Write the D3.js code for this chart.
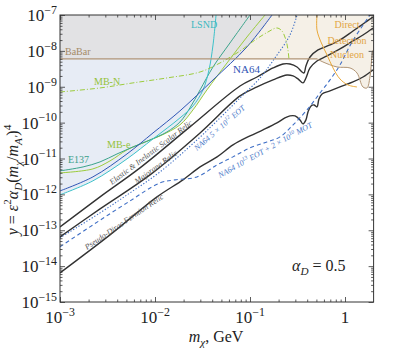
<!DOCTYPE html>
<html>
<head>
<meta charset="utf-8">
<script src="https://cdn.jsdelivr.net/npm/d3@7"></script>
<style>
  body { margin: 0; background: #fff; }
  svg text { font-family: "Liberation Serif", "Times New Roman", "DejaVu Serif", serif; }
</style>
</head>
<body>
<div id="chart"></div>
<script>
// values, each point is [m_chi (GeV), y]

// thermal relic targets
const scalarRelic = [[1e-3,1.24e-13],[2.64e-3,8.5e-13],[6.95e-3,5.47e-12],[0.0233,7.6e-11],[0.0785,1.05e-9],[0.1186,1.87e-9],[0.1746,3.34e-9],[0.2225,4.32e-9],[0.2636,4.32e-9],[0.3126,3.56e-9],[0.3527,2.58e-9],[0.370,2.42e-9],[0.388,3.79e-9],[0.4285,6.76e-9],[0.52,1.06e-8],[0.695,1.46e-8],[0.885,2.01e-8],[1.213,3.58e-8],[1.546,5.61e-8],[1.97,8.8e-8]]
const majoranaRelic = [[1e-3,6.55e-14],[2.64e-3,3.94e-13],[8.86e-3,3.49e-12],[0.0298,5.16e-11],[0.0785,5.55e-10],[0.1186,9.86e-10],[0.1746,1.55e-9],[0.245,2.13e-9],[0.284,2.0e-9],[0.32,1.65e-9],[0.361,1.28e-9],[0.388,1.76e-9],[0.4285,3.34e-9],[0.507,5.24e-9],[0.647,7.21e-9],[0.885,1.13e-8],[1.213,1.89e-8],[1.546,2.77e-8],[1.97,4.35e-8]]
const pseudoDiracRelic = [[1e-3,6.5e-15],[3.36e-3,7.45e-14],[0.0105,8.5e-13],[0.0197,2.54e-12],[0.0298,5.83e-12],[0.045,1.11e-11],[0.0662,2.39e-11],[0.1,4.26e-11],[0.137,6.27e-11],[0.192,9.8e-11],[0.233,1.35e-10],[0.2636,1.54e-10],[0.298,1.54e-10],[0.336,1.19e-10],[0.361,9.2e-11],[0.388,1.19e-10],[0.408,1.99e-10],[0.439,2.92e-10],[0.472,3.11e-10],[0.507,2.74e-10],[0.532,4.57e-10],[0.573,6.3e-10],[0.695,7.64e-10],[0.885,9.86e-10],[1.213,1.36e-9],[1.546,1.87e-9],[1.97,2.94e-9]]

// NA64 projections
const na64Eot5e12 = [[1e-3,6.14e-14],[2.64e-3,3.05e-13],[5.46e-3,1.1e-12],[0.0113,4.24e-12],[0.0277,3.3e-11],[0.0483,1.35e-10],[0.0785,4.88e-10],[0.1274,1.76e-9],[0.183,6.34e-9],[0.2636,2.77e-8],[0.3126,1e-7]]
const na64Eot1e13 = [[1e-3,3.45e-14],[2.22e-3,1.41e-13],[5.07e-3,5.79e-13],[0.0113,2.09e-12],[0.01626,2.54e-12],[0.0277,3.07e-12],[0.045,6.63e-12],[0.0662,1.11e-11],[0.1,1.97e-11],[0.151,2.9e-11],[0.207,4.0e-11],[0.284,8.63e-11],[0.398,2.26e-10],[0.546,6.71e-10],[0.695,1.55e-9],[0.885,4.05e-9],[1.186,1.77e-8],[1.83,1e-7]]

// existing limits
const na64 = [[1e-3,1.25e-12],[2.22e-3,3.07e-12],[5.07e-3,1.34e-11],[9.53e-3,5.16e-11],[0.0183,2.12e-10],[0.0408,1.55e-9],[0.0929,1.29e-8],[0.1706,1e-7]]
const lsnd = [[1e-3,9.7e-13],[2.22e-3,2.38e-12],[5.07e-3,9.75e-12],[9.53e-3,3.52e-11],[0.0183,1.35e-10],[0.0251,2.92e-10],[0.032,8.15e-10],[0.037,2.94e-9],[0.0408,1.46e-8],[0.0439,1e-7]]
const e137 = [[1e-3,4.52e-12],[1.75e-3,5.83e-12],[2.64e-3,8.04e-12],[3.98e-3,1.34e-11],[5.86e-3,2.1e-11],[8.86e-3,3.3e-11],[0.01337,5.5e-11],[0.0183,1.04e-10],[0.0233,2.56e-10],[0.0298,8.15e-10],[0.0408,3.56e-9],[0.0615,1.66e-8],[0.1,1e-7]]
const mbE = [[1e-3,3.97e-12],[2.22e-3,5.13e-12],[3.36e-3,8.57e-12],[5.07e-3,1.74e-11],[7.48e-3,2.72e-11],[0.0113,4.26e-11],[0.0183,8.63e-11],[0.0251,2.26e-10],[0.0352,8.15e-10],[0.0573,4.6e-9],[0.0929,2.44e-8],[0.144,1e-7]]
const mbN = [[1e-3,7.16e-10],[2.64e-3,9.27e-10],[5.86e-3,1.28e-9],[0.01337,1.76e-9],[0.0298,2.58e-9],[0.0483,4.6e-9],[0.0785,9.93e-9],[0.113,2.01e-8],[0.1545,3.36e-8],[0.192,4.35e-8],[0.217,3.58e-8],[0.239,2.01e-8],[0.251,1.06e-8],[0.2575,5.58e-9]]
const babarY = 6e-9
const babarEnd = 0.507
const ddBoundary = [[0.507,6e-9],[0.586,4.91e-9],[0.824,3.56e-9],[1.13,3.34e-9],[1.337,2.42e-9],[1.546,9.86e-10],[1.705,9.27e-10],[1.83,1.87e-9],[1.92,6.76e-9],[1.97,1.06e-8]]
const ddNucleon = [[0.507,1e-7],[0.507,3.82e-8],[0.558,1.77e-8],[0.647,7.69e-9],[0.748,3.34e-9],[0.885,1.65e-9],[1.076,1.12e-9],[1.337,9.86e-10]]

const xTicks = [1e-3, 1e-2, 1e-1, 1]
const xTickLabels = [["10","−3"],["10","−2"],["10","−1"],["1",""]]
const yTicks = [1e-15,1e-14,1e-13,1e-12,1e-11,1e-10,1e-9,1e-8,1e-7]
const yTickLabels = [["10","−15"],["10","−14"],["10","−13"],["10","−12"],["10","−11"],["10","−10"],["10","−9"],["10","−8"],["10","−7"]]

const width = 393, height = 350
const margin = { top: 15, right: 19.4, bottom: 48, left: 60 }
const serif = "'Liberation Serif', 'Times New Roman', 'DejaVu Serif', serif"

let svg = d3.select("#chart").append("svg")
    .attr("width", width).attr("height", height)
    .attr("font-family", serif)

let x = d3.scaleLog().domain([1e-3, 2]).range([margin.left, width - margin.right])
let y = d3.scaleLog().domain([1e-15, 1e-7]).range([height - margin.bottom, margin.top])
const x0 = x.range()[0], x1 = x.range()[1], yTop = y.range()[1], yBot = y.range()[0]

// clip paths: whole plot, above and below the BaBar line
const defs = svg.append("defs")
defs.append("clipPath").attr("id", "plot").append("rect")
    .attr("x", x0).attr("y", yTop).attr("width", x1 - x0).attr("height", yBot - yTop)
defs.append("clipPath").attr("id", "above").append("rect")
    .attr("x", x0).attr("y", yTop).attr("width", x1 - x0).attr("height", y(babarY) - yTop)
defs.append("clipPath").attr("id", "below").append("rect")
    .attr("x", x0).attr("y", y(babarY)).attr("width", x1 - x0).attr("height", yBot - y(babarY))

let line = d3.line().x(d => x(d[0])).y(d => y(d[1])).curve(d3.curveCatmullRom.alpha(0.5))
let plot = svg.append("g").attr("clip-path", "url(#plot)")

// direct detection region (beige), everything above the tan edge
plot.append("path")
    .attr("d", `M${x0},${yTop}L${x0},${y(babarY)}` + line(ddBoundary).replace(/^M/, "L") + `L${x1},${y(1.06e-8)}L${x1},${yTop}Z`)
    .attr("fill", "#f5f0e7")

// excluded regions: union of the areas above each limit
const limits = [na64, lsnd, e137, mbE]
const above = c => line(c) + `L${x0},${yTop}Z`
plot.append("g").attr("clip-path", "url(#above)")
    .selectAll("path").data(limits).join("path")
    .attr("d", above).attr("fill", "#e2e2e4")
plot.append("g").attr("clip-path", "url(#below)")
    .selectAll("path").data(limits).join("path")
    .attr("d", above).attr("fill", "#e7ecf5")

// relic lines
plot.selectAll(".relic").data([scalarRelic, majoranaRelic, pseudoDiracRelic]).join("path")
    .attr("class", "relic")
    .attr("d", line).attr("fill", "none").attr("stroke", "#333").attr("stroke-width", 1.4)

// NA64 projections
plot.append("path").attr("d", line(na64Eot5e12)).attr("fill", "none")
    .attr("stroke", "#3f6fc6").attr("stroke-width", 1.1).attr("stroke-dasharray", "1.3,1.8")
plot.append("path").attr("d", line(na64Eot1e13)).attr("fill", "none")
    .attr("stroke", "#3f6fc6").attr("stroke-width", 1.1).attr("stroke-dasharray", "4,3")

// limits
const limitStyles = [
    [mbE, "#9ccb3c"], [e137, "#3aa38a"], [lsnd, "#3cc1c9"], [na64, "#2f55b5"]
]
for (const [c, col] of limitStyles) {
    plot.append("path").attr("d", line(c)).attr("fill", "none").attr("stroke", col).attr("stroke-width", 1)
}
plot.append("path").attr("d", line(mbN)).attr("fill", "none")
    .attr("stroke", "#9ccb3c").attr("stroke-width", 1).attr("stroke-dasharray", "5,2,1,2")
plot.append("path").attr("d", line([[1e-3, babarY], [babarEnd, babarY]]))
    .attr("fill", "none").attr("stroke", "#b09474").attr("stroke-width", 1.1)
plot.append("path").attr("d", line(ddBoundary))
    .attr("fill", "none").attr("stroke", "#b09474").attr("stroke-width", 1)
plot.append("path").attr("d", line(ddNucleon))
    .attr("fill", "none").attr("stroke", "#e9a83a").attr("stroke-width", 1)

// ticks on all four sides, pointing in
function ticks(axis, vals, size, tr) {
    svg.append("g").attr("transform", tr)
        .call(axis.tickValues(vals).tickSize(size).tickFormat(""))
        .call(g => g.select(".domain").remove())
        .selectAll("line").attr("stroke", "#333").attr("stroke-width", 0.8)
}
const xMinor = [], yMinor = []
for (const t of xTicks) for (let k = 2; k < 10; k++) if (t * k < 2) xMinor.push(t * k)
for (const t of yTicks.slice(0, -1)) for (let k = 2; k < 10; k++) yMinor.push(t * k)
ticks(d3.axisBottom(x), xTicks, -5, `translate(0,${yBot})`)
ticks(d3.axisBottom(x), xMinor, -2.5, `translate(0,${yBot})`)
ticks(d3.axisTop(x), xTicks, -5, `translate(0,${yTop})`)
ticks(d3.axisTop(x), xMinor, -2.5, `translate(0,${yTop})`)
ticks(d3.axisLeft(y), yTicks, -5, `translate(${x0},0)`)
ticks(d3.axisLeft(y), yMinor, -2.5, `translate(${x0},0)`)
ticks(d3.axisRight(y), yTicks, -5, `translate(${x1},0)`)
ticks(d3.axisRight(y), yMinor, -2.5, `translate(${x1},0)`)

svg.append("rect").attr("x", x0).attr("y", yTop).attr("width", x1 - x0).attr("height", yBot - yTop)
    .attr("fill", "none").attr("stroke", "#333").attr("stroke-width", 1)

// text with sub/superscripts
function rich(g, parts, size) {
    let shift = 0
    for (const [t, kind, italic] of parts) {
        const target = kind === "sup" ? -0.42 * size : kind === "sub" ? 0.28 * size : 0
        g.append("tspan").attr("dy", target - shift)
            .attr("font-size", kind ? size * 0.7 : size)
            .attr("font-style", italic ? "italic" : null)
            .text(t)
        shift = target
    }
    return g
}

xTicks.forEach((t, i) => {
    const [b, e] = xTickLabels[i]
    rich(svg.append("text").attr("x", x(t)).attr("y", yBot + 21).attr("text-anchor", "middle").attr("fill", "#222"),
        e ? [[b], [e, "sup"]] : [[b]], 17)
})
yTicks.forEach((t, i) => {
    const [b, e] = yTickLabels[i]
    rich(svg.append("text").attr("x", x0 - 3).attr("y", y(t) + 6).attr("text-anchor", "end").attr("fill", "#222"),
        [[b], [e, "sup"]], 17)
})

// axis titles
rich(svg.append("text").attr("transform", "translate(18,180) rotate(-90)").attr("text-anchor", "middle").attr("fill", "#222"),
    [["y", 0, 1], [" = "], ["ε", 0, 1], ["2", "sup"], ["α", 0, 1], ["D", "sub", 1], ["("], ["m", 0, 1], ["χ", "sub", 1],
     ["/"], ["m", 0, 1], ["A′", "sub", 1], [")"], ["4", "sup"]], 16)
rich(svg.append("text").attr("x", 216).attr("y", 342).attr("text-anchor", "middle").attr("fill", "#222"),
    [["m", 0, 1], ["χ", "sub", 1], [", GeV"]], 16)
rich(svg.append("text").attr("x", 292).attr("y", 271).attr("fill", "#222"),
    [["α", 0, 1], ["D", "sub", 1], [" = 0.5"]], 16)

// curve labels
const label = (txt, px, py, col, size) => svg.append("text").attr("x", px).attr("y", py)
    .attr("fill", col).attr("font-size", size).text(txt)
label("BaBar", 65, 55, "#a58a68", 10)
label("MB-N", 94, 85, "#94c23a", 10)
label("MB-e", 107, 148, "#94c23a", 10)
label("E137", 68, 163, "#3a9e8a", 10)
label("LSND", 191, 28, "#3cb8c0", 10)
label("NA64", 233, 73, "#2f55b5", 11)
for (const [t, py] of [["Direct", 28], ["Detection", 44], ["Nucleon", 58]]) {
    label(t, 347, py, "#e2a544", 10).attr("text-anchor", "middle")
}

const slanted = (parts, px, py, ang, col) => rich(svg.append("text")
    .attr("transform", `translate(${px},${py}) rotate(${ang})`)
    .attr("font-style", "italic").attr("fill", col), parts, 8)
slanted([["Elastic & Inelastic Scalar Relic"]], 112, 185, -37, "#555")
slanted([["Majorana Relic"]], 137, 184, -36, "#555")
slanted([["Pseudo-Dirac Fermion Relic"]], 87, 250, -34, "#555")
slanted([["NA64 5 × 10"], ["12", "sup"], [" EOT"]], 197, 151, -41, "#4a78c8")
slanted([["NA64 10"], ["13", "sup"], [" EOT + 2 × 10"], ["10", "sup"], [" MOT"]], 220, 178, -29, "#4a78c8")
</script>
</body>
</html>
